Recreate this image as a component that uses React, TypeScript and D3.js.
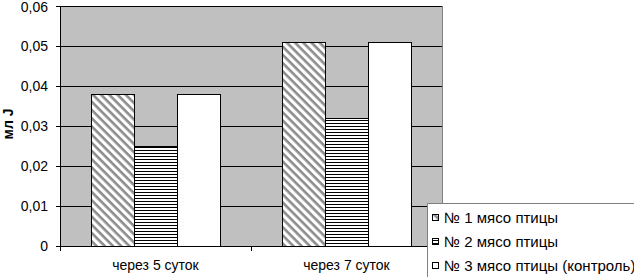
import React from "react";
import * as d3 from "d3";

const categories = ["через 5 суток", "через 7 суток"];
const seriesNames = ["№ 1 мясо птицы", "№ 2 мясо птицы", "№ 3 мясо птицы (контроль)"];
const series1 = [0.038, 0.051];
const series2 = [0.025, 0.032];
const series3 = [0.038, 0.051];
const yTicks = [0, 0.01, 0.02, 0.03, 0.04, 0.05, 0.06];
const yTickLabels = ["0", "0,01", "0,02", "0,03", "0,04", "0,05", "0,06"];

const W = 634, H = 277;
const L = 60, R = 442, T = 6, B = 246;
const fills = ["url(#diag)", "url(#horiz)", "#ffffff"];

export default function App() {
  const allSeries = [series1, series2, series3];
  const y = d3.scaleLinear().domain([0, 0.06]).range([B, T]);
  const x0 = d3.scaleBand().domain(categories).range([L, R]).paddingInner(0).paddingOuter(0);
  const x1 = d3.scaleBand().domain(["0", "1", "2"]).range([0, x0.bandwidth()]).paddingOuter(0.72).paddingInner(0);
  const font = "'Liberation Sans', Arial, sans-serif";
  return (
    <svg width={W} height={H} style={{ position: "absolute", left: 0, top: 0, display: "block" }}>
      <defs>
        <pattern id="diag" width="5.8" height="5.8" patternUnits="userSpaceOnUse" patternTransform="rotate(45)">
          <rect width="5.8" height="5.8" fill="#ffffff" />
          <rect y="0" width="5.8" height="2.6" fill="#8c8c8c" />
        </pattern>
        <pattern id="horiz" width="4" height="3" patternUnits="userSpaceOnUse">
          <rect width="4" height="3" fill="#ffffff" />
          <rect y="0" width="4" height="1" fill="#000000" />
        </pattern>
      </defs>
      <rect x={0} y={0} width={W} height={H} fill="#ffffff" />
      <rect x={L} y={T} width={R - L} height={B - T} fill="#c0c0c0" />
      {yTicks.map((t, i) => (
        <g key={i}>
          <line x1={L - 4} x2={R} y1={y(t) + 0.5} y2={y(t) + 0.5} stroke="#000" strokeWidth={1} />
          <text x={L - 12} y={Math.max(y(t), 7)} dy="0.36em" textAnchor="end" fontFamily={font} fontSize={14} fill="#000">
            {yTickLabels[i]}
          </text>
        </g>
      ))}
      <line x1={R + 0.5} x2={R + 0.5} y1={T} y2={B} stroke="#808080" />
      <line x1={L + 0.5} x2={L + 0.5} y1={T} y2={B + 1} stroke="#000" />
      {categories.map((c, ci) =>
        allSeries.map((s, si) => {
          const bx = (x0(c) as number) + (x1(String(si)) as number);
          return (
            <rect key={c + si} x={Math.round(bx) + 0.5} y={Math.round(y(s[ci])) + 0.5} width={Math.round(x1.bandwidth())}
              height={Math.round(B - y(s[ci]))} fill={fills[si]} stroke="#000" strokeWidth={1} />
          );
        })
      )}
      {[L, L + x0.bandwidth(), R].map((v, i) => (
        <line key={i} x1={Math.round(v) + 0.5} x2={Math.round(v) + 0.5} y1={B} y2={B + 5} stroke="#000" />
      ))}
      {categories.map((c) => (
        <text key={c} x={(x0(c) as number) + x0.bandwidth() / 2} y={270} textAnchor="middle" fontFamily={font} fontSize={14} fill="#000">
          {c}
        </text>
      ))}
      <text transform={`translate(13,124) rotate(-90)`} textAnchor="middle" fontFamily={font} fontSize={14} fontWeight="bold" fill="#000">
        мл J
      </text>
      <rect x={427.5} y={203.5} width={220} height={90} fill="#ffffff" stroke="#808080" />
      {seriesNames.map((n, i) => (
        <g key={n}>
          <rect x={432.5} y={214.5 + i * 24} width={6} height={6} fill={fills[i]} stroke="#000" />
          <text x={444} y={218 + i * 24} dy="0.36em" fontFamily={font} fontSize={15} fill="#000">
            {n}
          </text>
        </g>
      ))}
    </svg>
  );
}
